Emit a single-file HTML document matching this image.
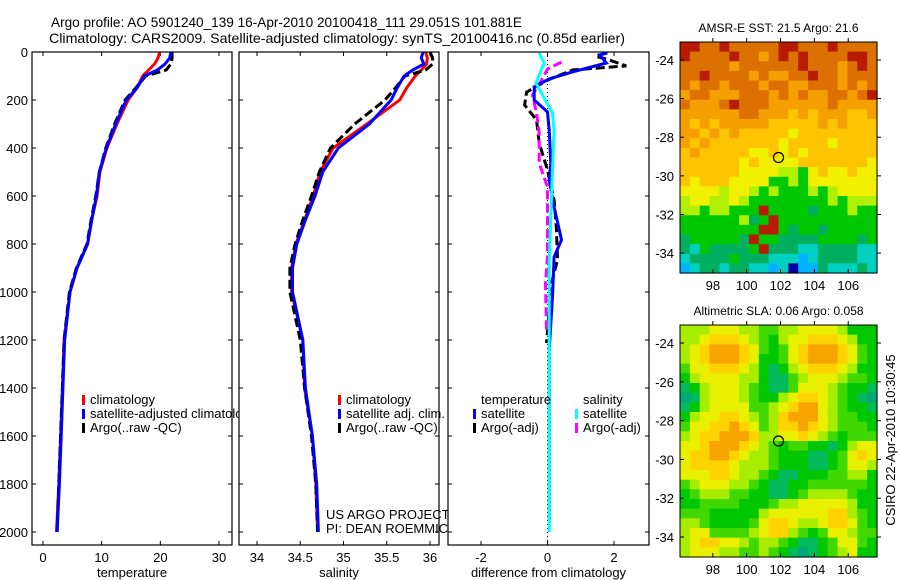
<!DOCTYPE html>
<html><head><meta charset="utf-8"><style>
body{margin:0;background:#fff;}
svg{display:block;font-family:"Liberation Sans",sans-serif;}
text{fill:#000;}
</style></head><body>
<svg id="s" width="900" height="580" viewBox="0 0 900 580" xmlns="http://www.w3.org/2000/svg">
<rect width="900" height="580" fill="#fff"/>
<text x="51" y="27" font-size="14" textLength="471" lengthAdjust="spacingAndGlyphs">Argo profile: AO 5901240_139 16-Apr-2010 20100418_111 29.051S 101.881E</text>
<text x="49" y="43" font-size="14" textLength="576" lengthAdjust="spacingAndGlyphs">Climatology: CARS2009. Satellite-adjusted climatology: synTS_20100416.nc (0.85d earlier)</text>
<g id="g"></g>
</svg>
<script>
// ---- data ----
const depths=[0,25,50,75,100,150,200,300,400,500,600,700,800,900,1000,1200,1400,1600,1800,2000];
const tempClim=[19.9,19.6,19.0,18.0,17.0,16.0,14.5,12.6,10.9,9.7,9.2,8.3,7.6,5.8,4.6,3.6,3.3,3.0,2.7,2.3];
const tempSat=[21.8,21.6,20.8,19.5,17.3,16.0,14.2,12.4,10.8,9.6,9.1,8.3,7.6,5.8,4.6,3.7,3.4,3.1,2.8,2.4];
const tempArgo=[22.0,22.0,21.8,21.0,17.5,15.8,14.0,12.2,10.7,9.6,9.0,8.2,7.5,5.7,4.5,3.6,3.3,3.0,2.7,2.4];
const salClim=[35.95,35.97,35.96,35.9,35.83,35.73,35.65,35.27,34.88,34.73,34.65,34.55,34.45,34.4,34.4,34.53,34.55,34.64,34.68,34.7];
const salSat=[35.92,35.9,35.93,35.8,35.7,35.62,35.55,35.3,34.94,34.76,34.67,34.56,34.46,34.41,34.41,34.53,34.56,34.64,34.69,34.71];
const salArgo=[36.0,36.03,36.03,35.95,35.71,35.6,35.48,35.13,34.85,34.72,34.63,34.53,34.44,34.38,34.38,34.5,34.55,34.63,34.68,34.7];
const dTsatD=[4,12,46,83,112,145,200,250,325,463,533,646,783,854,1020,1242,1950];
const dTsat=[1.8,1.56,1.77,0.75,0.05,-0.4,-0.4,0,0.05,0.1,0.05,0.2,0.42,0.2,0.15,0.05,0.05];
const dSsatD=[4,46,130,254,325,492,688,880,2000];
const dSsat=[-0.25,-0.1,-0.35,0.15,0.2,0.15,0.1,0.05,0.05];
const dTargD=[20,29,58,75,117,167,221,283,379,492,617,742,867,963,1213];
const dTarg=[1.5,1.77,2.37,0.75,0,-0.63,-0.69,-0.33,-0.25,0,0.2,0.27,0.3,0.12,-0.03];
const dSargD=[42,71,117,179,254,338,463,563,854,963,1158];
const dSarg=[0.42,0,-0.18,-0.45,-0.33,-0.25,-0.25,0,0,-0.06,-0.03];
const depthTicks=[0,200,400,600,800,1000,1200,1400,1600,1800,2000];
const tempTicks=[0,10,20,30];
const salTicks=[34,34.5,35,35.5,36];
const diffTicks=[-2,0,2];
const lonTicks=[98,100,102,104,106];
const latTicks=[-24,-26,-28,-30,-32,-34];
const argoLon=101.881, argoLat=-29.051;
const sstRows=[
"aa99a99999aa999a9999","a9999a9989a9a9999aa9","999998999999a99989a9","99a9999898899a998999",
"98998999899889998989","8998889998989889989a","98889a99988888898888","88888899888787888778",
"87878888877777878777","88787877777677777777","87877777776777767777","78777776676767777777",
"77777767666677777776","77777766665546766766","76777666644546666666","66665665454445456666",
"56655654444444454555","55455444a44443444544","444444534a4444444444","44444444aa4344344444",
"3444443a443333444434","32433334a33322333322","23333433322212333322","12332332212011322232"];
const slaRows=[
"44455544334455554222","44566654324556665422","45677765323567776532","45677765223567776532",
"35566654212456665422","24555544211345554332","12455543211355543221","01455543224566543210",
"12455553345677543221","24556654346777543322","35566765346676543332","45667776445565432333",
"55677765432332212455","56677654432221123565","56666544432221123554","55566544321122233442",
"34555443211223333332","23444332211234444322","22333322234455555422","33322222455555566432",
"44322223566544566532","45533334566432355433","45665543443211235532","45554433432101234522"];
const sstPal={"0":"#0000a0","1":"#00b4ff","2":"#00d0c0","3":"#00b060","4":"#00c800","5":"#b0f000","6":"#f0f000","7":"#ffc400","8":"#f5a000","9":"#dc7000","a":"#b81c00"};
const slaPal={"0":"#00a87a","1":"#00ba5c","2":"#00c800","3":"#40d800","4":"#a8ec00","5":"#e8f000","6":"#ffd200","7":"#f8a400"};

const NS="http://www.w3.org/2000/svg";
const G=document.getElementById('g');
function mk(tag,attrs,parent){const e=document.createElementNS(NS,tag);for(const k in attrs)e.setAttribute(k,attrs[k]);(parent||G).appendChild(e);return e;}
const Y=d=>52+d*0.24;
function lin(d0,d1,r0,r1){return v=>r0+(v-d0)*(r1-r0)/(d1-d0);}

const panels=[
 {name:'temperature',L:32,R:232,x:lin(0,30,43,219),ticks:tempTicks,lab:'temperature'},
 {name:'salinity',L:239,R:439,x:lin(34,36,257,430),ticks:salTicks,lab:'salinity'},
 {name:'difference',L:448,R:649,x:lin(-2,2,481,614),ticks:diffTicks,lab:'difference from climatology'}];
const T=52,B=545;

function line(p,xs,ds,color,dash,nm){
  const pts=xs.map((v,i)=>p.x(v).toFixed(1)+','+Y(ds[i]).toFixed(1)).join(' ');
  const e=mk('polyline',{points:pts,fill:'none',stroke:color,'stroke-width':3,'stroke-dasharray':dash||'none','clip-path':'url(#c'+p.name+')'});
  
  
}
function legend(x,y,color,label,nm){
  const r=mk('rect',{x:x,y:y-9,width:3,height:10,fill:color});
  
  
  const t=mk('text',{x:x+8,y:y,'font-size':13});t.textContent=label;
  
  
}

const defs=mk('defs',{});
panels.forEach(p=>{const c=mk('clipPath',{id:'c'+p.name},defs);mk('rect',{x:p.L,y:T,width:p.R-p.L,height:B-T},c);});

panels.forEach((p,pi)=>{
  const bg=mk('rect',{x:p.L,y:T,width:p.R-p.L,height:B-T,fill:'#fff'});
  
  
  depthTicks.forEach(d=>{
    mk('line',{x1:p.L,x2:p.L+4,y1:Y(d),y2:Y(d),stroke:'#000'});
    mk('line',{x1:p.R,x2:p.R-4,y1:Y(d),y2:Y(d),stroke:'#000'});
    if(pi===0){const t=mk('text',{x:28,y:Y(d)+5,'font-size':13,'text-anchor':'end'});t.textContent=d;
      
      }
  });
  p.ticks.forEach(v=>{
    const x=p.x(v);
    mk('line',{x1:x,x2:x,y1:B,y2:B-4,stroke:'#000'});
    mk('line',{x1:x,x2:x,y1:T,y2:T+4,stroke:'#000'});
    const t=mk('text',{x:x,y:562,'font-size':13,'text-anchor':'middle'});t.textContent=v;
    
    
  });
  const xl=mk('text',{x:(p.L+p.R)/2,y:577,'font-size':13,'text-anchor':'middle'});xl.textContent=p.lab;
  
  
  if(pi===0){
    line(p,tempClim,depths,'#ff0000',null,'temp-climatology-line');
    line(p,tempArgo,depths,'#000','9,4','temp-argo-line');
    line(p,tempSat,depths,'#0000ff',null,'temp-satellite-line');
    legend(82,404,'#f00','climatology','legend-climatology');
    legend(82,418,'#00f','satellite-adjusted climatology','legend-satellite');
    legend(82,432,'#000','Argo(..raw -QC)','legend-argo');
  } else if(pi===1){
    line(p,salClim,depths,'#ff0000',null,'sal-climatology-line');
    line(p,salArgo,depths,'#000','9,4','sal-argo-line');
    line(p,salSat,depths,'#0000ff',null,'sal-satellite-line');
    legend(338,404,'#f00','climatology','legend-sal-climatology');
    legend(338,418,'#00f','satellite adj. clim.','legend-sal-satellite');
    legend(338,432,'#000','Argo(..raw -QC)','legend-sal-argo');
    const a=mk('text',{x:326,y:519,'font-size':13});a.textContent='US ARGO PROJECT';
    
    
    const b=mk('text',{x:326,y:533,'font-size':13});b.textContent='PI: DEAN ROEMMICH';
    
    
  } else {
    mk('line',{x1:p.x(0),x2:p.x(0),y1:T,y2:B,stroke:'#000','stroke-dasharray':'1,3'});
    line(p,dTarg,dTargD,'#000','9,4','diff-temp-argo-line');
    line(p,dSarg,dSargD,'#ff00ff','9,4','diff-sal-argo-line');
    line(p,dTsat,dTsatD,'#0000ff',null,'diff-temp-satellite-line');
    line(p,dSsat,dSsatD,'#00ffff',null,'diff-sal-satellite-line');
    const t1=mk('text',{x:481,y:404,'font-size':13});t1.textContent='temperature';
    
    
    const t2=mk('text',{x:583,y:404,'font-size':13});t2.textContent='salinity';
    
    
    legend(473,418,'#00f','satellite','legend-diff-temp-satellite');
    legend(473,432,'#000','Argo(-adj)','legend-diff-temp-argo');
    legend(575,418,'#0ff','satellite','legend-diff-sal-satellite');
    legend(575,432,'#f0f','Argo(-adj)','legend-diff-sal-argo');
  }
  const fr=mk('rect',{x:p.L,y:T,width:p.R-p.L,height:B-T,fill:'none',stroke:'#000','stroke-width':1.2});
  
  
});

// maps
function map(L,R,Tp,Bt,rows,pal,title,nm,labelLon){
  const lon=lin(96.06,107.7,L,R), lat=lin(-23.07,-35.03,Tp,Bt);
  const nc=rows[0].length,nr=rows.length,cw=(R-L)/nc,ch=(Bt-Tp)/nr;
  rows.forEach((row,r)=>{for(let c=0;c<nc;c++){
    const e=mk('rect',{x:(L+c*cw).toFixed(2),y:(Tp+r*ch).toFixed(2),width:(cw+0.6).toFixed(2),height:(ch+0.6).toFixed(2),fill:pal[row[c]]});
    
    
  }});
  const fr=mk('rect',{x:L,y:Tp,width:R-L,height:Bt-Tp,fill:'none',stroke:'#000'});
  
  
  latTicks.forEach(v=>{const y=lat(v);
    mk('line',{x1:L,x2:L+4,y1:y,y2:y,stroke:'#000'});mk('line',{x1:R,x2:R+4,y1:y,y2:y,stroke:'#000'});
    const t=mk('text',{x:L-6,y:y+5,'font-size':13,'text-anchor':'end'});t.textContent=v;
    
    });
  lonTicks.forEach(v=>{const x=lon(v);
    mk('line',{x1:x,x2:x,y1:Bt,y2:Bt-4,stroke:'#000'});mk('line',{x1:x,x2:x,y1:Tp,y2:Tp-4,stroke:'#000'});
    const t=mk('text',{x:x,y:labelLon,'font-size':13,'text-anchor':'middle'});t.textContent=v;
    
    });
  const c=mk('ellipse',{cx:lon(argoLon),cy:lat(argoLat),rx:5,ry:5,fill:'none',stroke:'#000','stroke-width':1.2});
  
  
  const t=mk('text',{x:(L+R)/2,y:Tp-10,'font-size':12,'text-anchor':'middle'});t.textContent=title;
  
  
}
map(680,877,42,273,sstRows,sstPal,'AMSR-E SST: 21.5 Argo: 21.6','sst-map',290);
map(680,877,325,557,slaRows,slaPal,'Altimetric SLA: 0.06 Argo: 0.058','sla-map',574);
const cs=mk('text',{x:0,y:0,'font-size':13,'text-anchor':'middle',transform:'translate(895,440) rotate(-90)'});
cs.textContent='CSIRO 22-Apr-2010 10:30:45';


</script>
</body></html>
